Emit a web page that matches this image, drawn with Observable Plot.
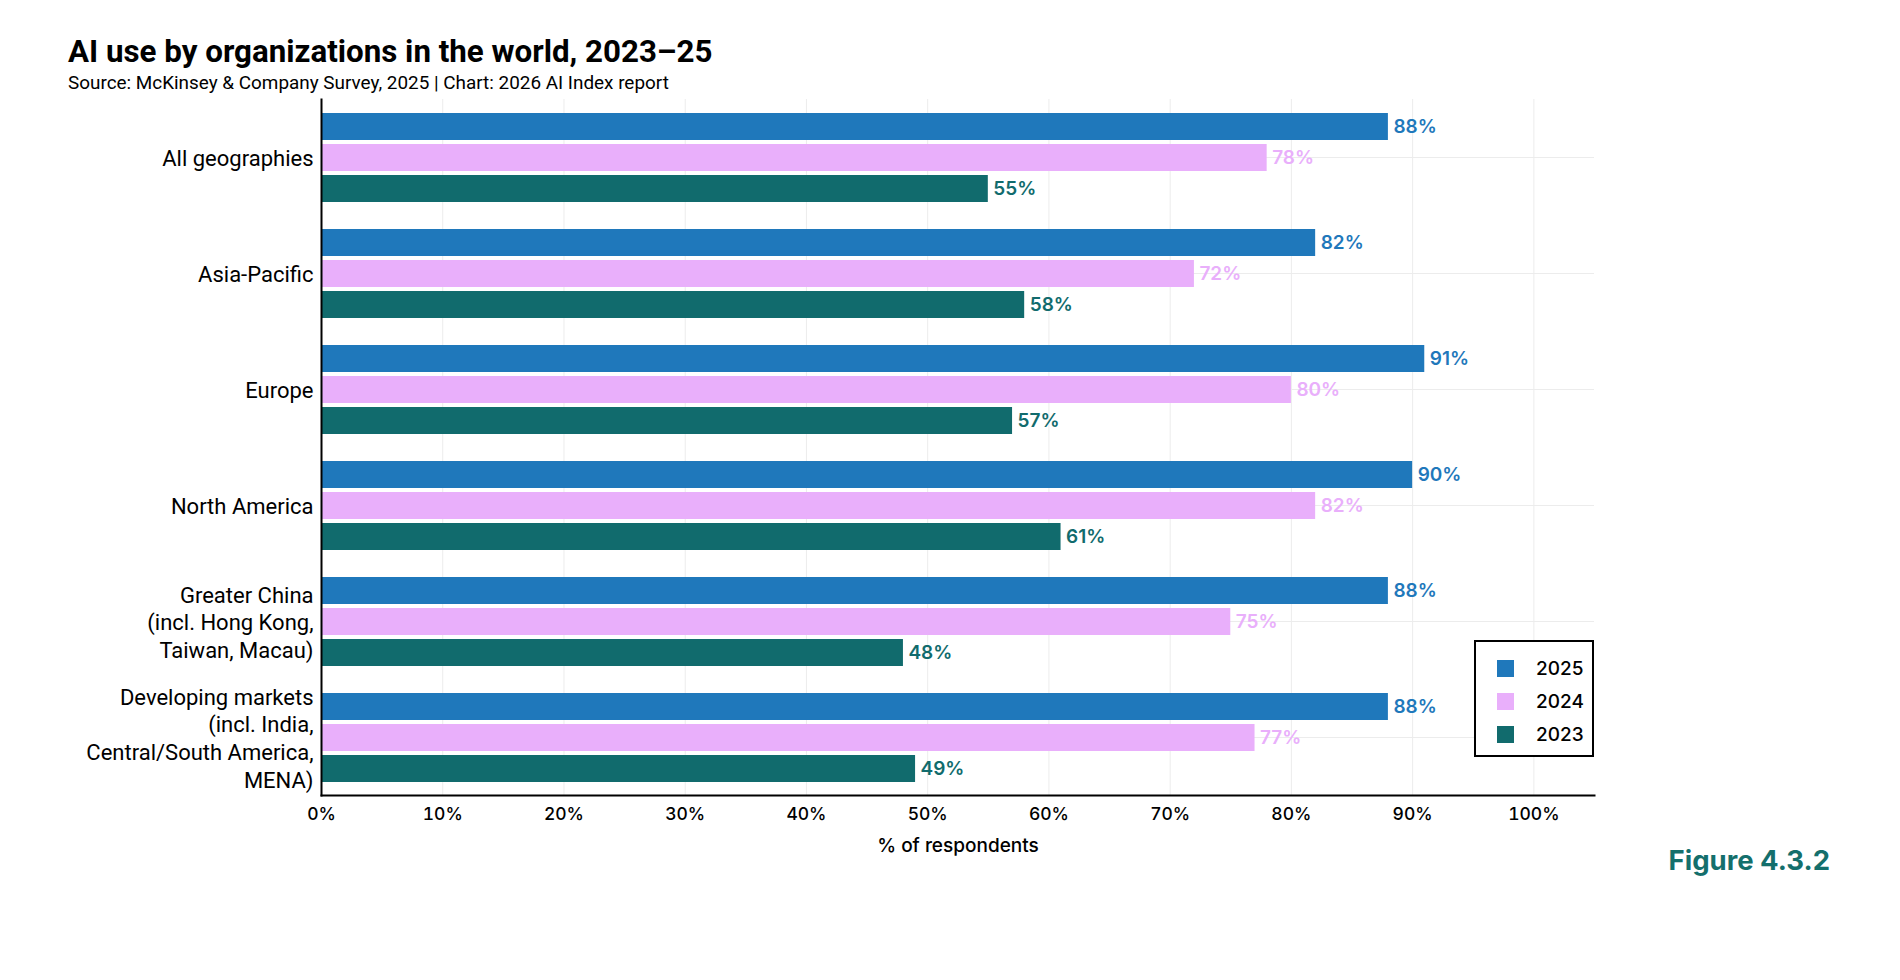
<!DOCTYPE html>
<html>
<head>
<meta charset="utf-8">
<script src="https://cdn.jsdelivr.net/npm/d3@7"></script>
<script src="https://cdn.jsdelivr.net/npm/@observablehq/plot@0.6"></script>
<style>
  html, body { margin: 0; padding: 0; background: #fff; }
  #wrap { position: relative; width: 1900px; height: 980px; font-family: Roboto, "Liberation Sans", sans-serif; color: #000; }
  #title { position: absolute; left: 68px; top: 36px; font-size: 31.3px; font-weight: 700; line-height: 1; white-space: nowrap; }
  #subtitle { position: absolute; left: 68px; top: 74px; font-size: 18.9px; line-height: 1; white-space: nowrap; }
  #chart { position: absolute; left: 0; top: 90px; }
  #legend { position: absolute; left: 1474px; top: 640px; width: 116px; height: 113px; border: 2px solid #000; background: #fff; }
  .lg-row { position: absolute; left: 21px; height: 17px; display: flex; align-items: center; }
  .lg-sw { width: 17px; height: 17px; }
  .lg-lab { margin-left: 22px; font-family: Inter, Roboto, sans-serif; font-size: 19px; font-weight: 500; }
  #fig { position: absolute; right: 70px; top: 847px; font-family: Inter, Roboto, sans-serif; font-size: 27.5px; font-weight: 700; color: #146f6c; line-height: 1; white-space: nowrap; }
  g[aria-label="fy-axis tick label"] text { font-family: Roboto, sans-serif; font-size: 22px; }
  g[aria-label="x-axis tick label"] text { font-family: Inter, Roboto, sans-serif; font-size: 17.5px; font-weight: 500; }
  g[aria-label="x-axis label"] text { font-family: Inter, Roboto, sans-serif; font-size: 19px; font-weight: 500; }
</style>
</head>
<body>
<div id="wrap">
  <div id="title">AI use by organizations in the world, 2023–25</div>
  <div id="subtitle">Source: McKinsey &amp; Company Survey, 2025 | Chart: 2026 AI Index report</div>
  <div id="chart"></div>
  <div id="legend"></div>
  <div id="fig">Figure 4.3.2</div>
</div>
<script>
// ---- data ----
const regions = [
  "All geographies",
  "Asia-Pacific",
  "Europe",
  "North America",
  "Greater China",
  "Developing markets"
];
const regionLabels = [
  "All geographies",
  "Asia-Pacific",
  "Europe",
  "North America",
  "Greater China\n(incl. Hong Kong,\nTaiwan, Macau)",
  "Developing markets\n(incl. India,\nCentral/South America,\nMENA)"
];
const years = ["2025", "2024", "2023"];
const values2025 = [88, 82, 91, 90, 88, 88];
const values2024 = [78, 72, 80, 82, 75, 77];
const values2023 = [55, 58, 57, 61, 48, 49];
const yearColors = ["#1f78bb", "#e9affb", "#116b6d"];
const xTicks = [0, 10, 20, 30, 40, 50, 60, 70, 80, 90, 100];

// ---- build table ----
const seriesByYear = { "2025": values2025, "2024": values2024, "2023": values2023 };
const data = [];
regions.forEach((r, i) => {
  years.forEach(y => data.push({ region: r, year: y, value: seriesByYear[y][i] }));
});
const labelOf = Object.fromEntries(regions.map((r, i) => [r, regionLabels[i]]));

const chart = Plot.plot({
  width: 1900,
  height: 780,
  marginTop: 8,
  marginBottom: 74,
  marginLeft: 321,
  marginRight: 306,
  style: { fontFamily: "Roboto, sans-serif", background: "transparent", color: "#000" },
  x: { domain: [0, 105] },
  y: { domain: years, axis: null, paddingInner: 0.13, paddingOuter: 0, insetTop: 13, insetBottom: 13 },
  fy: { domain: regions, padding: 0 },
  color: { domain: years, range: yearColors },
  marks: [
    Plot.gridX({ ticks: xTicks, stroke: "#ececec", strokeOpacity: 1 }),
    Plot.gridFy({ stroke: "#ececec", strokeOpacity: 1 }),
    Plot.barX(data, { fy: "region", y: "year", x: "value", fill: "year" }),
    Plot.text(data, {
      fy: "region", y: "year", x: "value",
      text: d => d.value + "%",
      textAnchor: "start", dx: 5,
      fill: "year",
      fontSize: 19, fontWeight: 600, fontFamily: "Inter, Roboto, sans-serif"
    }),
    Plot.axisFy({
      anchor: "left", tickSize: 0, tickPadding: 8, label: null,
      tickFormat: d => labelOf[d], lineHeight: 1.27, fontSize: 22
    }),
    Plot.axisX({
      ticks: xTicks, tickFormat: d => d + "%", tickSize: 0, tickPadding: 12,
      label: "% of respondents", labelAnchor: "center", labelArrow: "none", labelOffset: 56, fontSize: 17.5
    }),
    Plot.frame({ anchor: "left", facet: "super", stroke: "#000", strokeWidth: 2 }),
    Plot.frame({ anchor: "bottom", facet: "super", stroke: "#000", strokeWidth: 2 })
  ]
});
document.getElementById("chart").appendChild(chart);

// ---- legend ----
const legend = document.getElementById("legend");
years.forEach((y, i) => {
  const row = document.createElement("div");
  row.className = "lg-row";
  row.style.top = (17.5 + 33 * i) + "px";
  const sw = document.createElement("div");
  sw.className = "lg-sw";
  sw.style.background = yearColors[i];
  const lab = document.createElement("div");
  lab.className = "lg-lab";
  lab.textContent = y;
  row.appendChild(sw);
  row.appendChild(lab);
  legend.appendChild(row);
});
</script>
</body>
</html>
